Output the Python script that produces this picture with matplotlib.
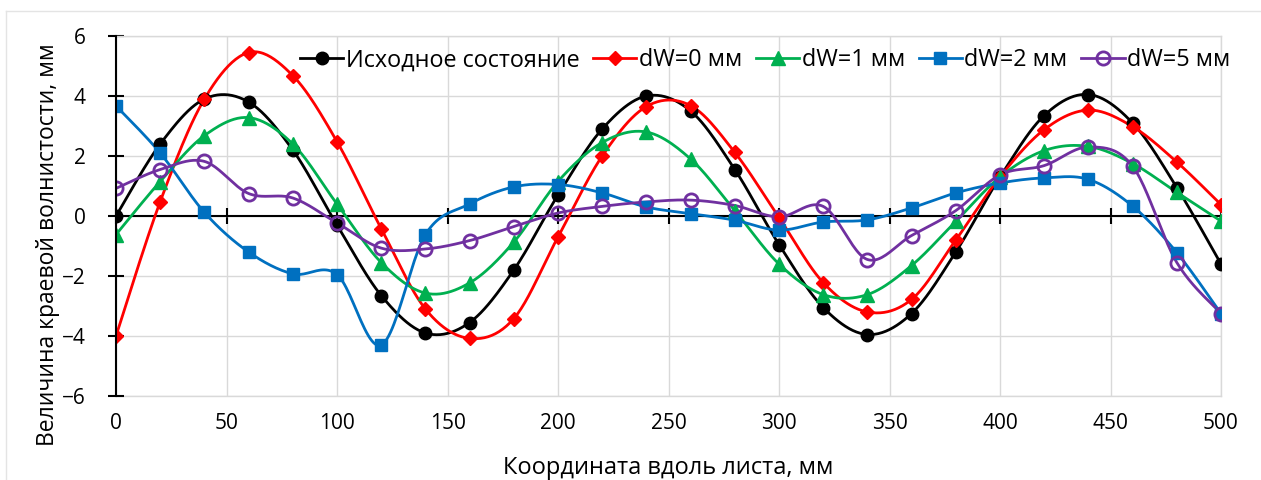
import numpy as np
import matplotlib
matplotlib.use("Agg")
import matplotlib.pyplot as plt
from matplotlib.lines import Line2D

plt.rcParams['font.family'] = ['Open Sans', 'DejaVu Sans']

x = [0, 20, 40, 60, 80, 100, 120, 140, 160, 180, 200, 220, 240, 260, 280,
     300, 320, 340, 360, 380, 400, 420, 440, 460, 480, 500]

y_init = [0.0, 2.4, 3.9, 3.8, 2.2, -0.3, -2.65, -3.9, -3.55, -1.8, 0.7, 2.9, 4.0, 3.5, 1.55,
          -0.95, -3.05, -3.95, -3.25, -1.2, 1.3, 3.35, 4.05, 3.1, 0.95, -1.6]
y_dw0 = [-4.0, 0.48, 3.9, 5.45, 4.68, 2.48, -0.42, -3.1, -4.08, -3.42, -0.7, 2.0, 3.65, 3.68, 2.12,
         -0.05, -2.22, -3.2, -2.78, -0.8, 1.3, 2.88, 3.53, 2.98, 1.8, 0.38]
y_dw1 = [-0.62, 1.15, 2.68, 3.28, 2.4, 0.4, -1.55, -2.57, -2.23, -0.87, 1.15, 2.45, 2.8, 1.9, 0.18,
         -1.6, -2.62, -2.62, -1.65, -0.18, 1.3, 2.18, 2.32, 1.75, 0.79, -0.17]
y_dw2 = [3.67, 2.1, 0.12, -1.2, -1.93, -1.95, -4.3, -0.62, 0.4, 0.97, 1.05, 0.77, 0.3, 0.08, -0.14,
         -0.47, -0.2, -0.13, 0.27, 0.77, 1.1, 1.27, 1.22, 0.33, -1.22, -3.25]
y_dw5 = [0.92, 1.55, 1.82, 0.75, 0.6, -0.23, -1.07, -1.1, -0.82, -0.35, 0.1, 0.32, 0.47, 0.53, 0.35,
         -0.03, 0.32, -1.45, -0.65, 0.18, 1.37, 1.68, 2.3, 1.66, -1.55, -3.25]

labels = ['Исходное состояние', 'dW=0 мм', 'dW=1 мм', 'dW=2 мм', 'dW=5 мм']
series = [y_init, y_dw0, y_dw1, y_dw2, y_dw5]
colors = ['#000000', '#ff0000', '#00b050', '#0070c0', '#7030a0']
markers = ['o', 'D', '^', 's', 'o']
msizes = [9, 7, 10, 9, 9.5]
x_ticks = [0, 50, 100, 150, 200, 250, 300, 350, 400, 450, 500]
y_ticks = [-6, -4, -2, 0, 2, 4, 6]


def smooth(xs, ys, n=24):
    """Catmull-Rom smoothing similar to Excel's smoothed line."""
    P = np.column_stack([xs, ys]).astype(float)
    P = np.vstack([P[0], P, P[-1]])
    out = []
    t = np.linspace(0, 1, n, endpoint=False)[:, None]
    for i in range(1, len(P) - 2):
        p0, p1, p2, p3 = P[i - 1], P[i], P[i + 1], P[i + 2]
        c1 = p1 + (p2 - p0) / 6.0
        c2 = p2 - (p3 - p1) / 6.0
        seg = ((1 - t) ** 3) * p1 + 3 * ((1 - t) ** 2) * t * c1 + 3 * (1 - t) * t ** 2 * c2 + t ** 3 * p2
        out.append(seg)
    out.append(P[-2][None, :])
    out = np.vstack(out)
    return out[:, 0], out[:, 1]


fig = plt.figure(figsize=(12.61, 4.8), dpi=100)
ax = fig.add_axes([116 / 1261, 1 - 396 / 480, (1221 - 116) / 1261, (396 - 36) / 480])

handles = []
for ys, c, m, ms, lab in zip(series, colors, markers, msizes, labels):
    sx, sy = smooth(x, ys)
    ax.plot(sx, sy, color=c, lw=2.0, zorder=3, solid_capstyle='round')
    if lab == 'dW=5 мм':
        ax.plot(x, ys, ls='none', marker=m, ms=ms, mfc='none', mec=c, mew=2.0, zorder=4)
        h = Line2D([], [], color=c, lw=2.0, marker=m, ms=ms, mfc='none', mec=c, mew=2.0)
    else:
        ax.plot(x, ys, ls='none', marker=m, ms=ms, mfc=c, mec=c, zorder=4)
        h = Line2D([], [], color=c, lw=2.0, marker=m, ms=ms, mfc=c, mec=c)
    handles.append(h)

ax.set_xlim(0, 500)
ax.set_ylim(-6, 6)
ax.set_xticks(x_ticks)
ax.set_yticks(y_ticks)
ax.grid(True, color='#d9d9d9', lw=1.0, zorder=0)
ax.set_axisbelow(True)

for s in ['top', 'right']:
    ax.spines[s].set_color('#d9d9d9')
    ax.spines[s].set_linewidth(1.0)
ax.spines['left'].set_color('black')
ax.spines['left'].set_linewidth(1.5)
ax.spines['left'].set_zorder(5)
ax.spines['bottom'].set_position(('data', 0))
ax.spines['bottom'].set_color('black')
ax.spines['bottom'].set_linewidth(1.5)
ax.spines['bottom'].set_zorder(2)

ax.tick_params(axis='x', direction='inout', length=12, width=1.5, color='black', labelbottom=False)
ax.tick_params(axis='y', direction='inout', length=12, width=1.5, color='black', labelsize=15, pad=16)

sec = ax.secondary_xaxis(0.0)
sec.set_xticks(x_ticks)
sec.tick_params(axis='x', length=0, labelsize=15, pad=12)
sec.spines['bottom'].set_color('#d9d9d9')
sec.spines['bottom'].set_linewidth(1.0)
sec.set_xlabel('Координата вдоль листа, мм', fontsize=17, labelpad=16)

ax.set_ylabel('Величина краевой волнистости, мм', fontsize=16.5)
ax.yaxis.set_label_coords(-0.051, 0.42)

leg = ax.legend(handles, labels, loc='upper right', ncol=5, frameon=False, fontsize=16.8,
                handlelength=1.85, handletextpad=0.1, columnspacing=0.6,
                bbox_to_anchor=(1.021, 1.005), borderaxespad=0.2)

# faint chart-area border
fig.add_artist(Line2D([6 / 1261, 6 / 1261], [0, 1 - 11 / 480], color='#e4e4e4', lw=1.0))
fig.add_artist(Line2D([6 / 1261, 1], [1 - 11 / 480, 1 - 11 / 480], color='#e4e4e4', lw=1.0))

fig.savefig('out.png', dpi=100, facecolor='white')
